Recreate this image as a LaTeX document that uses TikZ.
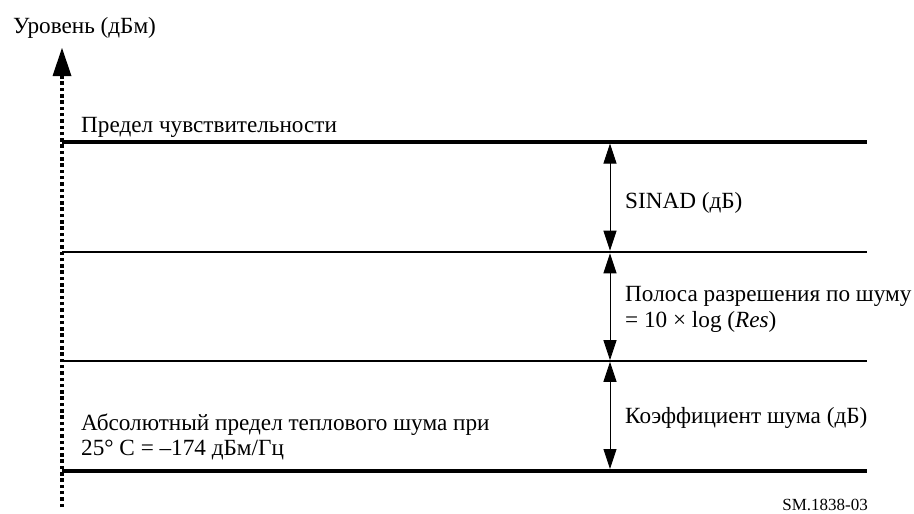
\documentclass[tikz,border=0pt]{standalone}
\usepackage{fontspec}
\setmainfont{Liberation Serif}
\usetikzlibrary{arrows.meta}
\begin{document}
\begin{tikzpicture}[x=1pt,y=-1pt,
  lbl/.style={inner sep=0pt,anchor=base west,font=\fontsize{23.2}{27}\selectfont},
  small/.style={inner sep=0pt,anchor=base east,font=\fontsize{17}{20}\selectfont},
  thickline/.style={line width=4pt},
  midline/.style={line width=2.6pt},
  thinline/.style={line width=1.6pt},
  dim/.style={line width=0.9pt,{Triangle[length=20pt,width=13pt]}-{Triangle[length=20pt,width=13pt]}},
  axisdots/.style={line width=3.2pt,dash pattern=on 3.5pt off 2.8pt,-{Triangle[length=28pt,width=19pt,line width=0pt]}}
]
\useasboundingbox (0,0) rectangle (914,514);
% axis
\coordinate (axb) at (62,507);
\coordinate (axt) at (62,48);
\draw[axisdots] (axb) -- (axt);
\node[lbl] (ylab) at (13,34) {Уровень (дБм)};
% level lines
\coordinate (l1w) at (62,141.5); \coordinate (l1e) at (867,141.5);
\coordinate (l2w) at (62,252);   \coordinate (l2e) at (867,252);
\coordinate (l3w) at (62,361);   \coordinate (l3e) at (867,361);
\coordinate (l4w) at (62,471);   \coordinate (l4e) at (867,471);
\draw[thickline] (l1w) -- (l1e);
\draw[midline] (l2w) -- (l2e);
\draw[thinline] (l3w) -- (l3e);
\draw[thickline] (l4w) -- (l4e);
% dimension arrows
\coordinate (a1) at (610,143.5);
\coordinate (a2) at (610,250.7);
\coordinate (a3) at (610,253.3);
\coordinate (a4) at (610,360.2);
\coordinate (a5) at (610,361.8);
\coordinate (a6) at (610,469);
\draw[dim] (a1) -- (a2);
\draw[dim] (a3) -- (a4);
\draw[dim] (a5) -- (a6);
% labels
\node[lbl] (sens) at (81,132) {Предел чувствительности};
\node[lbl] (sinad) at (625,208) {SINAD (дБ)};
\node[lbl] (res1) at (625,301) {Полоса разрешения по шуму};
\node[lbl] (res2) at (625,327) {= 10 × log (\textit{Res})};
\node[lbl] (nf) at (625,423) {Коэффициент шума (дБ)};
\node[lbl] (abs1) at (81,430) {Абсолютный предел теплового шума при};
\node[lbl] (abs2) at (81,455) {25° C = –174 дБм/Гц};
\node[small] (fig) at (868,510.5) {SM.1838-03};
\end{tikzpicture}
\end{document}
